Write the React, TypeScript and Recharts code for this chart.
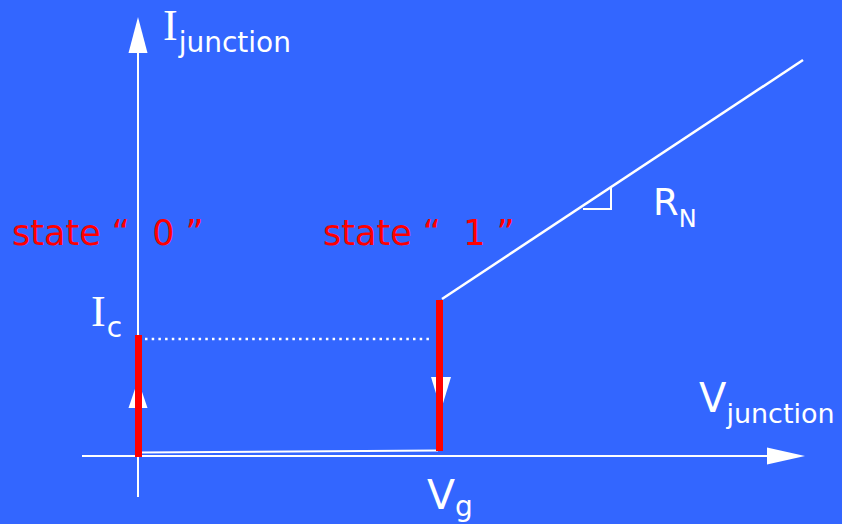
import { ComposedChart, Line, Area, Scatter, XAxis, YAxis } from "recharts";

// junction I-V diagram, units: x = V (Vg = 3), y = I (Ic ~ 1.17)
const V_G = 3.0;
const I_C = 1.17;

const xAxisLine = [{ x: -0.56, y: 0 }, { x: 6.29, y: 0 }];
const xAxisHead = [{ x: 6.29, r: [-0.085, 0.085] }, { x: 6.67, r: [0, 0] }];
const yAxisLine = [{ x: 0, y: -0.41 }, { x: 0, y: 4.05 }];
const yAxisHead = [
  { x: -0.095, r: [4.03, 4.03] },
  { x: 0, r: [4.03, 4.39] },
  { x: 0.095, r: [4.03, 4.03] },
];

const icLevel = [{ x: 0.07, y: I_C }, { x: 2.95, y: I_C }];
const zeroBranch = [{ x: 0.02, y: 0.035 }, { x: V_G, y: 0.055 }];
const normalBranch = [{ x: 3.04, y: 1.57 }, { x: 6.65, y: 3.96 }];
const slopeMark = [
  { x: 4.45, y: 2.47 },
  { x: 4.73, y: 2.47 },
  { x: 4.73, y: 2.68 },
];

const state0 = [{ x: 0.005, y: -0.01 }, { x: 0.005, y: 1.21 }];
const state1 = [{ x: 3.015, y: 0.05 }, { x: 3.015, y: 1.56 }];
const upHead = [
  { x: -0.095, r: [0.48, 0.48] },
  { x: 0, r: [0.48, 0.76] },
  { x: 0.095, r: [0.48, 0.48] },
];
const downHead = [
  { x: 2.93, r: [0.79, 0.79] },
  { x: 3.03, r: [0.46, 0.79] },
  { x: 3.13, r: [0.79, 0.79] },
];

const labels = [
  { x: 0.25, y: 4.16, main: "I", sub: "junction", serif: true, size: 44, subSize: 28, dy: 12, color: "#fff" },
  { x: 5.61, y: 0.44, main: "V", sub: "junction", serif: false, size: 40, subSize: 27, dy: 11, color: "#fff" },
  { x: 5.15, y: 2.41, main: "R", sub: "N", serif: false, size: 37, subSize: 24, dy: 12, color: "#fff" },
  { x: -0.47, y: 1.3, main: "I", sub: "c", serif: true, size: 44, subSize: 28, dy: 11, color: "#fff" },
  { x: 2.89, y: -0.53, main: "V", sub: "g", serif: false, size: 41, subSize: 28, dy: 7, color: "#fff" },
  { x: -1.26, y: 2.11, main: "state “  0 ”", sub: "", serif: false, size: 35, subSize: 0, dy: 0, color: "#ff0000" },
  { x: 1.85, y: 2.11, main: "state “  1 ”", sub: "", serif: false, size: 35, subSize: 0, dy: 0, color: "#ff0000" },
];

const FONT = "'DejaVu Sans', Verdana, sans-serif";
const SERIF = "'Liberation Serif', serif";

function LabelMark(props: any) {
  const { cx, cy, payload } = props;
  return (
    <text x={cx} y={cy} fill={payload.color} fontFamily={FONT} fontSize={payload.size} style={{ whiteSpace: "pre" }}>
      <tspan fontFamily={payload.serif ? SERIF : FONT}>{payload.main}</tspan>
      {payload.sub && (
        <tspan dy={payload.dy} dx={payload.serif ? 1 : 0} fontSize={payload.subSize}>
          {payload.sub}
        </tspan>
      )}
    </text>
  );
}

export default function App() {
  const white = "#ffffff";
  const red = "#ff0000";
  return (
    <div style={{ position: "absolute", left: 0, top: 0, width: 842, height: 524, background: "#3366ff" }}>
      <ComposedChart width={842} height={524} margin={{ top: 0, right: 0, bottom: 0, left: 0 }}>
        <XAxis type="number" dataKey="x" domain={[-1.38, 7.04]} allowDataOverflow hide />
        <YAxis type="number" domain={[-0.68, 4.56]} allowDataOverflow hide />

        <Line data={xAxisLine} dataKey="y" stroke={white} strokeWidth={2} dot={false} isAnimationActive={false} />
        <Area data={xAxisHead} dataKey="r" type="linear" stroke="none" fill={white} fillOpacity={1} isAnimationActive={false} />
        <Line data={yAxisLine} dataKey="y" stroke={white} strokeWidth={2} dot={false} isAnimationActive={false} />
        <Area data={yAxisHead} dataKey="r" type="linear" stroke="none" fill={white} fillOpacity={1} isAnimationActive={false} />

        <Line data={icLevel} dataKey="y" stroke={white} strokeWidth={2.5} strokeDasharray="2.5 4.2" dot={false} isAnimationActive={false} />
        <Line data={zeroBranch} dataKey="y" stroke={white} strokeWidth={2} dot={false} isAnimationActive={false} />
        <Line data={normalBranch} dataKey="y" stroke={white} strokeWidth={2.5} dot={false} isAnimationActive={false} />
        <Line data={slopeMark} dataKey="y" stroke={white} strokeWidth={2} dot={false} isAnimationActive={false} />

        <Area data={upHead} dataKey="r" type="linear" stroke="none" fill={white} fillOpacity={1} isAnimationActive={false} />
        <Area data={downHead} dataKey="r" type="linear" stroke="none" fill={white} fillOpacity={1} isAnimationActive={false} />
        <Line data={state0} dataKey="y" stroke={red} strokeWidth={7} dot={false} isAnimationActive={false} />
        <Line data={state1} dataKey="y" stroke={red} strokeWidth={7} dot={false} isAnimationActive={false} />

        <Scatter data={labels} dataKey="y" shape={(p: any) => <LabelMark {...p} />} isAnimationActive={false} />
      </ComposedChart>
    </div>
  );
}
